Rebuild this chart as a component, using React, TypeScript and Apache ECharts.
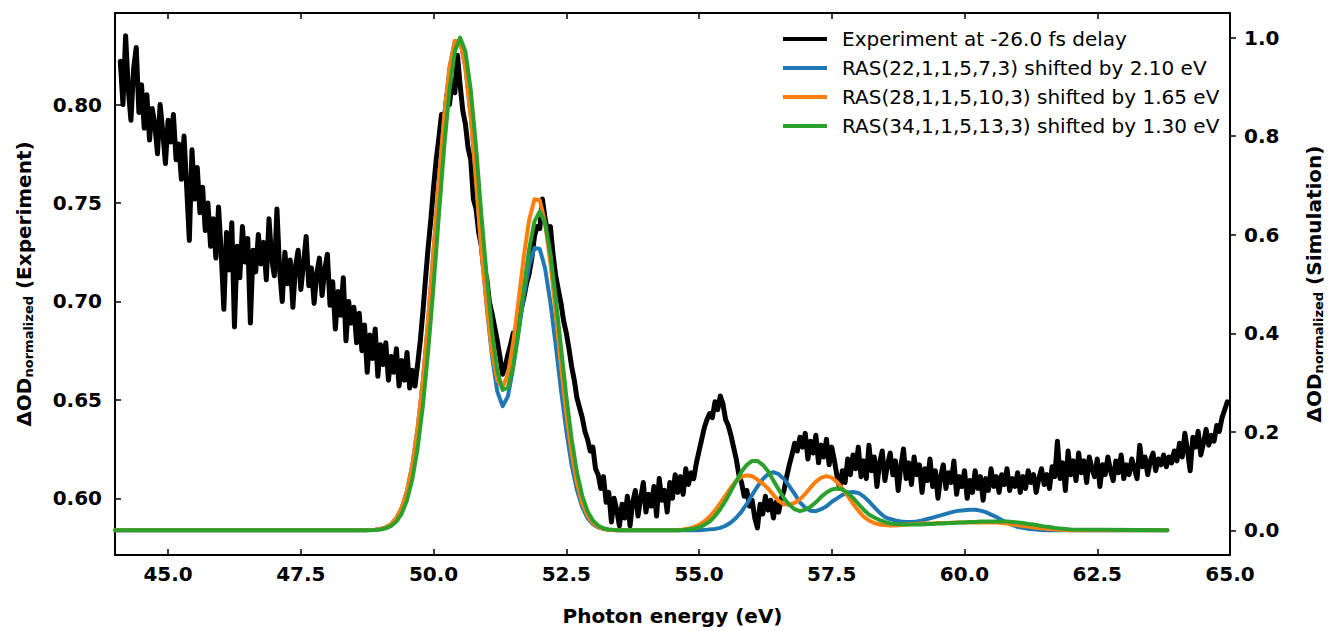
import React, { useEffect, useRef } from 'react';
import * as echarts from 'echarts';

const FONT = 'DejaVu Sans';

// Axis ticks
const X_TICKS = [45.0, 47.5, 50.0, 52.5, 55.0, 57.5, 60.0, 62.5, 65.0];
const Y_LEFT_TICKS = [0.6, 0.65, 0.7, 0.75, 0.8];
const Y_RIGHT_TICKS = [0.0, 0.2, 0.4, 0.6, 0.8, 1.0];

// Legend names
const NAME_EXP = 'Experiment at -26.0 fs delay';
const NAME_RAS22 = 'RAS(22,1,1,5,7,3) shifted by 2.10 eV';
const NAME_RAS28 = 'RAS(28,1,1,5,10,3) shifted by 1.65 eV';
const NAME_RAS34 = 'RAS(34,1,1,5,13,3) shifted by 1.30 eV';

// Experiment: photon energy grid 44.10 .. 64.95 eV, step 0.05 eV
const EXP_START = 44.1;
const EXP_STEP = 0.05;
const expValues = [
  0.822, 0.800, 0.835, 0.808, 0.792, 0.818, 0.829, 0.796, 0.810, 0.788,
  0.805, 0.782, 0.798, 0.790, 0.775, 0.800, 0.786, 0.770, 0.792, 0.781,
  0.795, 0.772, 0.780, 0.762, 0.784, 0.758, 0.731, 0.777, 0.752, 0.768,
  0.745, 0.758, 0.736, 0.750, 0.728, 0.742, 0.722, 0.748, 0.725, 0.696,
  0.735, 0.716, 0.740, 0.687, 0.728, 0.712, 0.738, 0.720, 0.732, 0.689,
  0.726, 0.715, 0.734, 0.719, 0.730, 0.711, 0.742, 0.722, 0.713, 0.747,
  0.716, 0.700, 0.725, 0.709, 0.721, 0.697, 0.718, 0.726, 0.706, 0.719,
  0.733, 0.708, 0.717, 0.699, 0.714, 0.722, 0.703, 0.716, 0.724, 0.698,
  0.710, 0.686, 0.705, 0.693, 0.712, 0.680, 0.700, 0.689, 0.697, 0.679,
  0.694, 0.675, 0.688, 0.664, 0.683, 0.671, 0.686, 0.662, 0.678, 0.668,
  0.679, 0.660, 0.672, 0.664, 0.676, 0.657, 0.670, 0.660, 0.674, 0.656,
  0.665, 0.657, 0.668, 0.680, 0.695, 0.712, 0.728, 0.742, 0.758, 0.772,
  0.783, 0.795, 0.791, 0.805, 0.800, 0.812, 0.806, 0.825, 0.810, 0.797,
  0.790, 0.778, 0.772, 0.752, 0.747, 0.735, 0.728, 0.716, 0.712, 0.700,
  0.694, 0.687, 0.680, 0.672, 0.663, 0.667, 0.673, 0.678, 0.684, 0.683,
  0.690, 0.696, 0.702, 0.709, 0.714, 0.722, 0.733, 0.738, 0.737, 0.752,
  0.742, 0.735, 0.738, 0.724, 0.713, 0.706, 0.699, 0.690, 0.684, 0.676,
  0.667, 0.660, 0.651, 0.646, 0.641, 0.634, 0.630, 0.624, 0.626, 0.615,
  0.612, 0.605, 0.611, 0.598, 0.603, 0.588, 0.600, 0.594, 0.586, 0.597,
  0.590, 0.601, 0.586, 0.598, 0.604, 0.591, 0.600, 0.608, 0.593, 0.602,
  0.596, 0.606, 0.591, 0.610, 0.599, 0.604, 0.593, 0.608, 0.600, 0.612,
  0.603, 0.611, 0.602, 0.615, 0.607, 0.613, 0.610, 0.618, 0.624, 0.630,
  0.636, 0.640, 0.643, 0.641, 0.649, 0.645, 0.652, 0.648, 0.640, 0.637,
  0.632, 0.626, 0.620, 0.612, 0.608, 0.601, 0.604, 0.596, 0.599, 0.590,
  0.585, 0.597, 0.592, 0.601, 0.594, 0.599, 0.590, 0.598, 0.593, 0.600,
  0.604, 0.611, 0.617, 0.622, 0.628, 0.624, 0.631, 0.626, 0.633, 0.620,
  0.629, 0.623, 0.632, 0.618, 0.627, 0.621, 0.630, 0.617, 0.626, 0.619,
  0.611, 0.605, 0.614, 0.608, 0.620, 0.612, 0.622, 0.615, 0.626, 0.611,
  0.619, 0.610, 0.627, 0.614, 0.621, 0.606, 0.618, 0.624, 0.609, 0.617,
  0.623, 0.612, 0.619, 0.604, 0.616, 0.625, 0.610, 0.618, 0.607, 0.621,
  0.612, 0.617, 0.603, 0.615, 0.609, 0.620, 0.606, 0.614, 0.600, 0.611,
  0.617, 0.605, 0.613, 0.608, 0.619, 0.602, 0.611, 0.606, 0.614, 0.600,
  0.609, 0.603, 0.614, 0.605, 0.611, 0.599, 0.610, 0.604, 0.615, 0.606,
  0.611, 0.603, 0.612, 0.607, 0.615, 0.604, 0.610, 0.606, 0.613, 0.603,
  0.611, 0.605, 0.614, 0.608, 0.612, 0.603, 0.610, 0.615, 0.607, 0.612,
  0.605, 0.616, 0.611, 0.629, 0.610, 0.618, 0.604, 0.624, 0.612, 0.619,
  0.609, 0.623, 0.613, 0.619, 0.608, 0.621, 0.615, 0.611, 0.620, 0.606,
  0.617, 0.612, 0.621, 0.614, 0.609, 0.619, 0.613, 0.622, 0.610, 0.617,
  0.612, 0.620, 0.615, 0.610, 0.627, 0.616, 0.621, 0.612, 0.619, 0.623,
  0.614, 0.620, 0.617, 0.622, 0.616, 0.621, 0.618, 0.624, 0.619, 0.628,
  0.621, 0.633, 0.624, 0.614, 0.631, 0.626, 0.634, 0.622, 0.628, 0.635,
  0.627, 0.632, 0.629, 0.637, 0.634, 0.641, 0.645, 0.649,
];

// Simulations: grid 48.6 .. 62.0 eV, step 0.1 eV; flat zero before, and ends at 63.82 eV
const SIM_FIRST = 44.0;
const SIM_START = 48.6;
const SIM_STEP = 0.1;
const SIM_LAST = 63.82;

const ras22 = [
  0, 0, 0.0005, 0.0012, 0.0028, 0.0062, 0.0127, 0.0249, 0.046, 0.0804,
  0.133, 0.208, 0.307, 0.430, 0.568, 0.710, 0.840, 0.939, 0.993, 0.993,
  0.939, 0.840, 0.710, 0.568, 0.455, 0.354, 0.282, 0.252, 0.272, 0.331,
  0.401, 0.476, 0.538, 0.573, 0.571, 0.532, 0.463, 0.376, 0.285, 0.202,
  0.133, 0.082, 0.047, 0.025, 0.0127, 0.0059, 0.0026, 0.001, 0.0005, 0,
  0, 0, 0, 0, 0, 0, 0, 0, 0, 0, 0, 0, 0, 0,
  0, 0.001, 0.002, 0.003, 0.005, 0.0094, 0.016, 0.0255, 0.038, 0.054,
  0.072, 0.089, 0.104, 0.114, 0.118, 0.114, 0.104, 0.090, 0.074, 0.057,
  0.046, 0.040, 0.039, 0.043, 0.049, 0.058, 0.065, 0.072, 0.077, 0.078,
  0.076, 0.069, 0.059, 0.047, 0.036, 0.027, 0.023, 0.020, 0.018, 0.017,
  0.017, 0.018, 0.020, 0.023, 0.026, 0.029, 0.032, 0.035, 0.038, 0.040,
  0.041, 0.042, 0.042, 0.040, 0.037, 0.032, 0.027, 0.021, 0.016, 0.011,
  0.007, 0.005, 0.003, 0.002, 0.001,
  0, 0, 0, 0, 0, 0,
];

const ras28 = [
  0, 0, 0.0005, 0.0012, 0.0028, 0.0062, 0.0127, 0.0249, 0.046, 0.0804,
  0.133, 0.208, 0.307, 0.430, 0.568, 0.710, 0.840, 0.939, 0.993, 0.993,
  0.939, 0.840, 0.710, 0.568, 0.460, 0.362, 0.305, 0.290, 0.317, 0.381,
  0.466, 0.556, 0.630, 0.672, 0.670, 0.624, 0.543, 0.441, 0.335, 0.237,
  0.157, 0.097, 0.055, 0.030, 0.015, 0.007, 0.003, 0.001, 0, 0,
  0, 0, 0, 0, 0, 0, 0, 0, 0, 0.0004, 0.0009, 0.0019, 0.0036, 0.0066,
  0.0113, 0.0183, 0.0279, 0.0403, 0.0551, 0.0712, 0.0868, 0.100, 0.109, 0.112,
  0.110, 0.103, 0.095, 0.085, 0.072, 0.060, 0.053, 0.052, 0.056, 0.063,
  0.074, 0.087, 0.099, 0.107, 0.110, 0.107, 0.098, 0.085, 0.070, 0.054,
  0.040, 0.028, 0.020, 0.015, 0.012, 0.011, 0.010, 0.010, 0.011, 0.012,
  0.013, 0.013, 0.014, 0.014, 0.014, 0.015, 0.015, 0.015, 0.016, 0.016,
  0.016, 0.016, 0.016, 0.016, 0.016, 0.016, 0.016, 0.015, 0.014, 0.012,
  0.011, 0.009, 0.008, 0.006, 0.005,
  0.004, 0.003, 0.002, 0.001, 0.0005, 0,
];

const ras34 = [
  0, 0.0001, 0.0003, 0.0008, 0.0019, 0.0042, 0.0089, 0.0179, 0.034, 0.0612,
  0.104, 0.167, 0.254, 0.366, 0.497, 0.640, 0.778, 0.894, 0.972, 1.0,
  0.972, 0.894, 0.778, 0.640, 0.517, 0.405, 0.324, 0.285, 0.290, 0.333,
  0.405, 0.490, 0.571, 0.627, 0.647, 0.624, 0.562, 0.472, 0.371, 0.272,
  0.186, 0.118, 0.070, 0.039, 0.020, 0.0098, 0.0044, 0.0019, 0.0007, 0,
  0, 0, 0, 0, 0, 0, 0, 0, 0, 0, 0.0004, 0.0008, 0.0017, 0.0033,
  0.0062, 0.011, 0.018, 0.029, 0.043, 0.060, 0.080, 0.100, 0.119, 0.133,
  0.141, 0.141, 0.133, 0.120, 0.101, 0.083, 0.065, 0.052, 0.043, 0.039,
  0.042, 0.048, 0.057, 0.068, 0.077, 0.083, 0.085, 0.083, 0.076, 0.066,
  0.054, 0.042, 0.032, 0.026, 0.021, 0.017, 0.014, 0.013, 0.012, 0.012,
  0.012, 0.012, 0.012, 0.013, 0.013, 0.014, 0.014, 0.015, 0.015, 0.016,
  0.016, 0.017, 0.017, 0.018, 0.018, 0.018, 0.018, 0.018, 0.018, 0.017,
  0.016, 0.015, 0.013, 0.012, 0.010,
  0.008, 0.007, 0.005, 0.004, 0.003, 0.002,
];

const expData = expValues.map((v, i) => [+(EXP_START + i * EXP_STEP).toFixed(2), v]);
const simData = (vals: number[]) => [
  [SIM_FIRST, 0],
  ...vals.map((v, i) => [+(SIM_START + i * SIM_STEP).toFixed(2), v]),
  [SIM_LAST, 0],
];

const tickLabel = {
  fontFamily: FONT,
  fontSize: 20,
  fontWeight: 'bold' as const,
  color: '#000',
};

const nameRich = {
  a: { fontFamily: FONT, fontSize: 20, fontWeight: 'bold' as const, color: '#000' },
  s: { fontFamily: FONT, fontSize: 13, fontWeight: 'bold' as const, color: '#000', padding: [10, 0, 0, 0] },
};

const spine = { show: true, onZero: false, lineStyle: { color: '#000', width: 2 } };

export default function App() {
  const ref = useRef<HTMLDivElement>(null);
  useEffect(() => {
    if (!ref.current) return;
    const chart = echarts.init(ref.current, null, { renderer: 'svg' });
    const lineSeries = (name: string, data: any, color: string, yIdx: number, width: number, z: number) => ({
      name,
      type: 'line',
      data,
      xAxisIndex: 0,
      yAxisIndex: yIdx,
      showSymbol: false,
      symbol: 'none',
      z,
      color,
      lineStyle: { color, width, join: 'round', cap: 'round' },
      itemStyle: { color },
    });
    chart.setOption({
      animation: false,
      backgroundColor: '#fff',
      grid: { left: 115, top: 13, width: 1125, height: 545, containLabel: false },
      legend: {
        orient: 'vertical',
        left: 783,
        top: 29,
        padding: 0,
        itemGap: 9,
        itemWidth: 44,
        itemHeight: 4,
        icon: 'rect',
        selectedMode: false,
        textStyle: { fontFamily: FONT, fontSize: 20, color: '#000', padding: [0, 0, 0, 10] },
        data: [NAME_EXP, NAME_RAS22, NAME_RAS28, NAME_RAS34],
      },
      xAxis: [
        {
          type: 'value',
          min: 44,
          max: 65,
          position: 'bottom',
          axisLine: spine,
          axisTick: { show: true, inside: true, length: 6, customValues: X_TICKS, lineStyle: { color: '#000', width: 1.5 } },
          axisLabel: { ...tickLabel, customValues: X_TICKS, margin: 9, formatter: (v: number) => v.toFixed(1) },
          splitLine: { show: false },
          name: 'Photon energy (eV)',
          nameLocation: 'middle',
          nameGap: 51,
          nameTextStyle: { ...tickLabel },
        },
        {
          type: 'value',
          min: 44,
          max: 65,
          position: 'top',
          axisLine: spine,
          axisTick: { show: true, inside: true, length: 6, customValues: X_TICKS, lineStyle: { color: '#000', width: 1.5 } },
          axisLabel: { show: false },
          splitLine: { show: false },
        },
      ],
      yAxis: [
        {
          type: 'value',
          min: 0.5712,
          max: 0.8465,
          position: 'left',
          axisLine: spine,
          axisTick: { show: true, inside: true, length: 6, customValues: Y_LEFT_TICKS, lineStyle: { color: '#000', width: 1.5 } },
          axisLabel: { ...tickLabel, customValues: Y_LEFT_TICKS, margin: 13, formatter: (v: number) => v.toFixed(2) },
          splitLine: { show: false },
          name: '{a|ΔOD}{s|normalized}{a| (Experiment)}',
          nameLocation: 'middle',
          nameRotate: 90,
          nameGap: 80,
          nameTextStyle: { rich: nameRich },
        },
        {
          type: 'value',
          min: -0.05,
          max: 1.05,
          position: 'right',
          axisLine: spine,
          axisTick: { show: true, inside: false, length: 6, customValues: Y_RIGHT_TICKS, lineStyle: { color: '#000', width: 1.5 } },
          axisLabel: { ...tickLabel, customValues: Y_RIGHT_TICKS, margin: 14, formatter: (v: number) => v.toFixed(1) },
          splitLine: { show: false },
          name: '{a|ΔOD}{s|normalized}{a| (Simulation)}',
          nameLocation: 'middle',
          nameRotate: 90,
          nameGap: 72,
          nameTextStyle: { rich: nameRich },
        },
      ],
      series: [
        lineSeries(NAME_EXP, expData, '#000000', 0, 5, 2),
        lineSeries(NAME_RAS22, simData(ras22), '#1f77b4', 1, 4, 3),
        lineSeries(NAME_RAS28, simData(ras28), '#ff7f0e', 1, 4, 4),
        lineSeries(NAME_RAS34, simData(ras34), '#2ca02c', 1, 4, 5),
      ],
    });
    return () => chart.dispose();
  }, []);
  return <div ref={ref} style={{ position: 'absolute', left: 0, top: 0, width: 1333, height: 631 }} />;
}
